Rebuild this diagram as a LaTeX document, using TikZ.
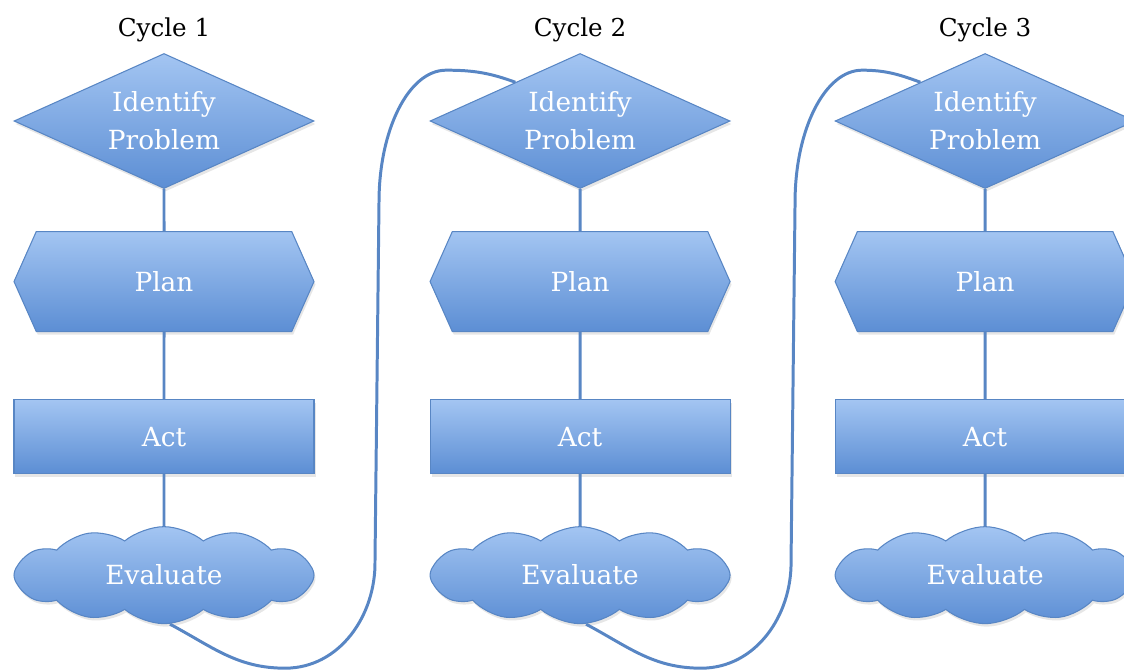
\documentclass[tikz,border=0pt]{standalone}
\usepackage{fontspec}
\setmainfont{DejaVu Serif}
\usetikzlibrary{positioning,shapes.geometric,shapes.symbols,shadows,calc}
\definecolor{boxtop}{RGB}{163,197,242}
\definecolor{boxbot}{RGB}{92,142,212}
\definecolor{boxline}{RGB}{88,134,196}
\def\colw{6cm}
\tikzstyle{box}=[draw=boxline,line width=0.6pt,top color=boxtop,bottom color=boxbot,
  text=white,font=\fontsize{15}{21.5}\selectfont,align=center,inner sep=0pt,
  minimum width=\colw,drop shadow={opacity=0.2,shadow xshift=0.3mm,shadow yshift=-0.6mm}]
\tikzstyle{decide}=[box,diamond,aspect=2.2,minimum height=2.7cm]
\tikzstyle{prep}=[box,signal,signal to=west and east,signal pointer angle=132,minimum height=2cm]
\tikzstyle{task}=[box,rectangle,minimum height=1.48cm]
\tikzstyle{check}=[box,cloud,cloud puffs=12,cloud puff arc=80,cloud ignores aspect,minimum height=1.94cm]
\tikzstyle{title}=[font=\fontsize{14}{18}\selectfont,inner sep=2pt]
\tikzstyle{link}=[draw=boxline,line width=1.7pt]
\newcommand{\newCycle}[3]{%
  \node[decide,#3](id#1){Identify\\Problem};
  \node[title,above=1.5mm of id#1](cyc#1){#2};
  \node[prep,below=0.84cm of id#1](plan#1){Plan};
  \node[task,below=1.34cm of plan#1](act#1){Act};
  \node[check,below=1.04cm of act#1](eval#1){Evaluate};
  \path[link] (id#1) -- (plan#1) -- (act#1) -- (eval#1);}

\begin{document}
\begin{tikzpicture}
    \useasboundingbox (0,0) rectangle (22.48,-13.42);
    \newCycle{1}{Cycle 1}{at={(3.28,-2.42)}}
    \newCycle{2}{Cycle 2}{right=2.3cm of id1}
    \newCycle{3}{Cycle 3}{right=2.08cm of id2}
    % loop back from each evaluation to the next problem
    \foreach \a/\b in {1/2,2/3}
      \draw[link] ([xshift=1.2mm]eval\a.south) to[out=-28,in=180] ++(2.3,-0.88)
        to[out=0,in=-89] ++(1.8,2.15) -- ++(0.08,7.17)
        .. controls +(0,1.46) and +(-0.74,0) .. ++(1.34,2.64)
        to[out=0,in=160] ($(id\b.west)!0.57!(id\b.north)$);
\end{tikzpicture}
\end{document}
